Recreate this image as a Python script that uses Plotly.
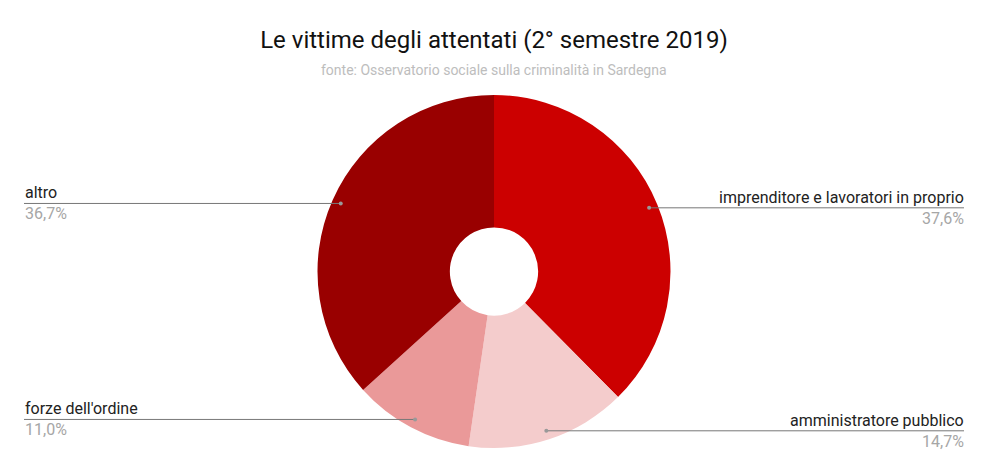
import math
import plotly.graph_objects as go

categorie = ['imprenditore e lavoratori in proprio', 'amministratore pubblico',
             "forze dell'ordine", 'altro']
percentuali = [37.6, 14.7, 11.0, 36.7]
colori = ['#cc0000', '#f4cccc', '#ea9999', '#990000']

# la pagina ha 8px di margine sul body: si compensa qui
W, H = 988, 473
M_L, M_T = 16, 87
plot_w, plot_h = 940, 353
M_R = W - M_L - plot_w
M_B = H - M_T - plot_h
raggio = min(plot_w, plot_h) / 2

fig = go.Figure()
fig.add_trace(go.Pie(
    labels=categorie, values=percentuali,
    marker=dict(colors=colori, line=dict(width=0)),
    sort=False, direction='clockwise', rotation=0,
    hole=0.25, textinfo='none', hoverinfo='label+percent',
    domain=dict(x=[0, 1], y=[0, 1])
))

# linee guida ed etichette, calcolate dagli angoli delle fette
totale = sum(percentuali)
cumulato = 0
forme = []
note = []
for nome, val in zip(categorie, percentuali):
    medio = (cumulato + val / 2) / totale * 2 * math.pi
    cumulato += val
    dx = math.sin(medio) * raggio * 0.95
    dy = math.cos(medio) * raggio * 0.95
    px = 0.5 + dx / plot_w
    py = 0.5 + dy / plot_h
    destra = dx > 0
    xe = 1 if destra else 0
    forme.append(dict(type='line', xref='paper', yref='paper',
                      x0=px, y0=py, x1=xe, y1=py,
                      line=dict(color='#777777', width=1)))
    forme.append(dict(type='circle', xref='paper', yref='paper',
                      x0=px - 2 / plot_w, x1=px + 2 / plot_w,
                      y0=py - 2 / plot_h, y1=py + 2 / plot_h,
                      fillcolor='#999999', line=dict(width=0)))
    anc = 'right' if destra else 'left'
    sx = 2 if destra else -1
    note.append(dict(x=xe, y=py, xref='paper', yref='paper', text=nome,
                     showarrow=False, xanchor=anc, yanchor='bottom',
                     font=dict(size=16, color='#222222'), yshift=-1, xshift=sx))
    note.append(dict(x=xe, y=py, xref='paper', yref='paper',
                     text=f'{val:.1f}%'.replace('.', ','),
                     showarrow=False, xanchor=anc, yanchor='top',
                     font=dict(size=16, color='#a6a6a6'), yshift=1, xshift=sx))

note.append(dict(x=0.5, y=1 + (M_T - 62) / plot_h, xref='paper', yref='paper',
                 text='fonte: Osservatorio sociale sulla criminalità in Sardegna',
                 showarrow=False, yanchor='middle',
                 font=dict(size=14, color='#bdbdbd')))

fig.update_layout(
    width=W, height=H,
    margin=dict(l=M_L, r=M_R, t=M_T, b=M_B),
    font=dict(family='Roboto, sans-serif'),
    title=dict(text='Le vittime degli attentati (2° semestre 2019)',
               x=(M_L + plot_w / 2) / W, xanchor='center',
               y=1 - 32 / H, yanchor='middle',
               font=dict(size=24, color='#111111')),
    showlegend=False,
    paper_bgcolor='white',
    shapes=forme,
    annotations=note
)

fig.write_html('out.html')
